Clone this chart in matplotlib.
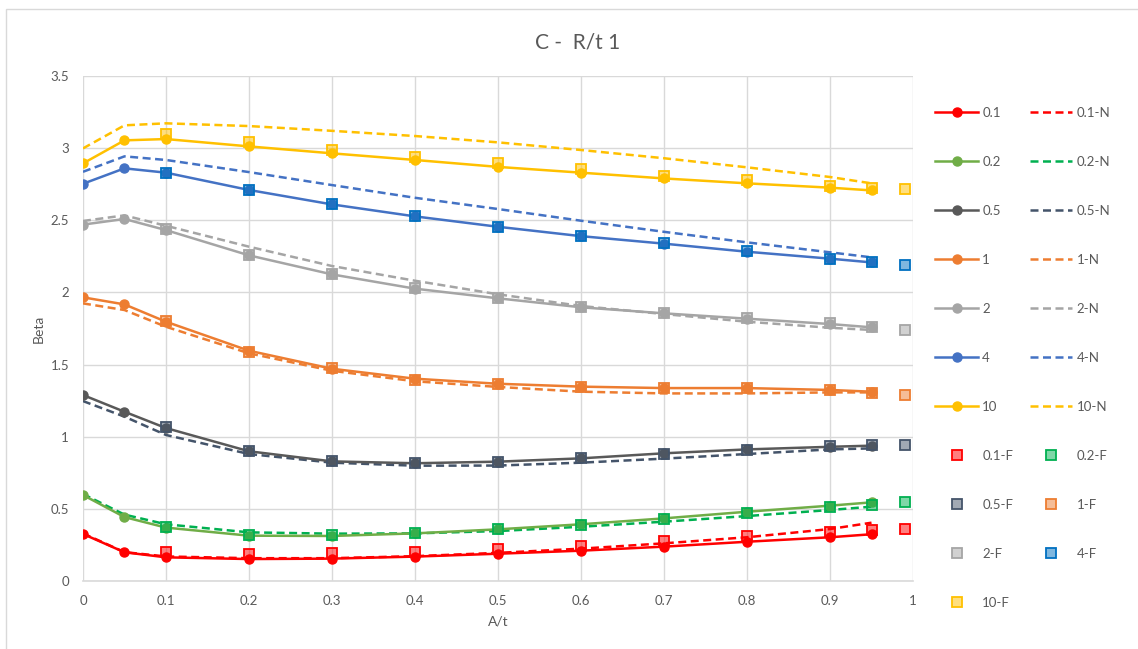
import matplotlib.pyplot as plt
from matplotlib.colors import to_rgba
from matplotlib.patches import Rectangle

plt.rcParams['font.family'] = ['Lato', 'DejaVu Sans']

# --- donnees ---
x_full = [0, 0.05, 0.1, 0.2, 0.3, 0.4, 0.5, 0.6, 0.7, 0.8, 0.9, 0.95]
x_f = [0.1, 0.2, 0.3, 0.4, 0.5, 0.6, 0.7, 0.8, 0.9, 0.95, 0.99]

noms = ["0.1", "0.2", "0.5", "1", "2", "4", "10"]

beta = {
    "0.1": [0.326, 0.199, 0.164, 0.152, 0.155, 0.169, 0.189, 0.21, 0.238, 0.272, 0.303, 0.324],
    "0.2": [0.596, 0.443, 0.37, 0.314, 0.312, 0.33, 0.358, 0.393, 0.434, 0.48, 0.522, 0.545],
    "0.5": [1.289, 1.173, 1.06, 0.899, 0.829, 0.816, 0.827, 0.85, 0.885, 0.912, 0.93, 0.938],
    "1": [1.966, 1.917, 1.797, 1.596, 1.471, 1.402, 1.367, 1.347, 1.337, 1.337, 1.324, 1.312],
    "2": [2.47, 2.509, 2.432, 2.257, 2.125, 2.026, 1.959, 1.897, 1.855, 1.818, 1.781, 1.758],
    "4": [2.753, 2.86, 2.83, 2.71, 2.61, 2.527, 2.455, 2.39, 2.338, 2.282, 2.234, 2.208],
    "10": [2.894, 3.054, 3.063, 3.012, 2.964, 2.918, 2.87, 2.83, 2.79, 2.756, 2.726, 2.707],
}

beta_n = {
    "0.1": [0.33, 0.20, 0.17, 0.158, 0.158, 0.172, 0.195, 0.224, 0.261, 0.303, 0.36, 0.404],
    "0.2": [0.603, 0.46, 0.393, 0.337, 0.328, 0.33, 0.346, 0.376, 0.411, 0.45, 0.492, 0.515],
    "0.5": [1.247, 1.139, 1.012, 0.88, 0.82, 0.799, 0.80, 0.82, 0.848, 0.88, 0.912, 0.919],
    "1": [1.924, 1.878, 1.762, 1.578, 1.457, 1.384, 1.345, 1.312, 1.30, 1.30, 1.307, 1.307],
    "2": [2.495, 2.534, 2.462, 2.317, 2.183, 2.081, 1.987, 1.906, 1.85, 1.797, 1.755, 1.74],
    "4": [2.836, 2.943, 2.918, 2.834, 2.744, 2.656, 2.578, 2.497, 2.42, 2.347, 2.278, 2.243],
    "10": [2.998, 3.158, 3.172, 3.153, 3.12, 3.084, 3.04, 2.987, 2.93, 2.867, 2.80, 2.756],
}

beta_f = {
    "0.1": [0.201, 0.187, 0.192, 0.20, 0.219, 0.24, 0.277, 0.31, 0.342, 0.353, 0.358],
    "0.2": [0.375, 0.32, 0.32, 0.335, 0.36, 0.39, 0.43, 0.47, 0.51, 0.53, 0.55],
    "0.5": [1.065, 0.90, 0.835, 0.815, 0.825, 0.85, 0.88, 0.91, 0.935, 0.94, 0.94],
    "1": [1.80, 1.59, 1.475, 1.395, 1.365, 1.345, 1.335, 1.335, 1.325, 1.305, 1.292],
    "2": [2.44, 2.26, 2.13, 2.03, 1.96, 1.90, 1.86, 1.82, 1.785, 1.76, 1.742],
    "4": [2.825, 2.71, 2.61, 2.53, 2.455, 2.39, 2.34, 2.285, 2.235, 2.21, 2.19],
    "10": [3.10, 3.04, 2.99, 2.94, 2.90, 2.857, 2.81, 2.78, 2.74, 2.726, 2.72],
}

coul = {"0.1": "#FF0000", "0.2": "#70AD47", "0.5": "#595959", "1": "#ED7D31",
        "2": "#A5A5A5", "4": "#4472C4", "10": "#FFC000"}
coul_n = {"0.1": "#FF0000", "0.2": "#00B050", "0.5": "#44546A", "1": "#ED7D31",
          "2": "#A5A5A5", "4": "#4472C4", "10": "#FFC000"}
coul_f = {"0.1": "#FF0000", "0.2": "#00B050", "0.5": "#44546A", "1": "#ED7D31",
          "2": "#A5A5A5", "4": "#0070C0", "10": "#FFC000"}

gris = "#595959"

fig = plt.figure(figsize=(11.38, 6.49), dpi=100)
ax = fig.add_axes([0.0729, 0.1048, 0.7294, 0.7781])

h_sol, h_n, h_f = [], [], []
for n in noms:
    l, = ax.plot(x_full, beta[n], color=coul[n], lw=1.8, marker='o', ms=6.5,
                 label=n, zorder=3)
    h_sol.append(l)
for n in noms:
    l, = ax.plot(x_full, beta_n[n], color=coul_n[n], lw=1.8, ls=(0, (3.2, 1.8)),
                 label=n + "-N", zorder=2)
    h_n.append(l)
for n in noms:
    fc = to_rgba(coul_f[n], 0.5)
    l, = ax.plot(x_f, beta_f[n], ls='none', marker='s', ms=6.5, mfc=fc,
                 mec=coul_f[n], mew=1.3, label=n + "-F", zorder=4)
    h_f.append(l)

ax.set_xlim(0, 1)
ax.set_ylim(0, 3.5)
ax.set_xticks([0, 0.1, 0.2, 0.3, 0.4, 0.5, 0.6, 0.7, 0.8, 0.9, 1])
ax.set_xticklabels(["0", "0.1", "0.2", "0.3", "0.4", "0.5", "0.6", "0.7", "0.8", "0.9", "1"])
ax.set_yticks([0, 0.5, 1, 1.5, 2, 2.5, 3, 3.5])
ax.set_yticklabels(["0", "0.5", "1", "1.5", "2", "2.5", "3", "3.5"])
ax.grid(True, color="#D9D9D9", lw=1)
ax.set_axisbelow(True)
for s in ax.spines.values():
    s.set_visible(False)
ax.spines['bottom'].set_visible(True)
ax.spines['bottom'].set_color("#D9D9D9")
ax.spines['bottom'].set_linewidth(1.2)
ax.tick_params(length=0, labelsize=9.5, labelcolor=gris, pad=10)
ax.set_xlabel("A/t", color=gris, fontsize=10, labelpad=6)
ax.set_ylabel("Beta", color=gris, fontsize=10, labelpad=4)

fig.text(0.508, 0.935, "C -  R/t 1", ha='center', va='center', fontsize=15, color=gris)

# ordre excel : ligne par ligne sur 2 colonnes
col1 = h_sol + [h_f[0], h_f[2], h_f[4], h_f[6]]
col2 = h_n + [h_f[1], h_f[3], h_f[5]]
leg = ax.legend(col1 + col2, [h.get_label() for h in col1 + col2], ncol=2,
                loc='upper left', bbox_to_anchor=(0.822, 0.835),
                bbox_transform=fig.transFigure, frameon=False, fontsize=9.5,
                labelspacing=2.8, handlelength=3.2, handletextpad=0.35,
                columnspacing=1.25, borderpad=0, borderaxespad=0)
for t in leg.get_texts():
    t.set_color(gris)

fig.patches.append(Rectangle((6 / 1138, -0.1), 1.2, 1 - 9 / 649 + 0.1,
                             transform=fig.transFigure, fill=False,
                             ec="#D9D9D9", lw=1))

fig.savefig("out.png", dpi=100)
